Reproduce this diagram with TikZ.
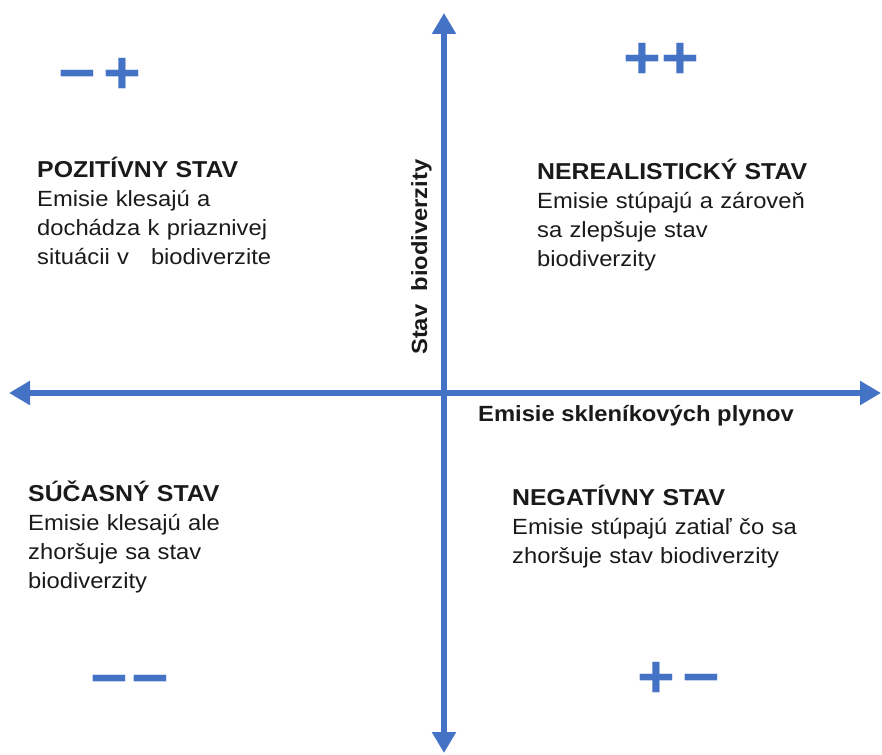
\documentclass[tikz,border=0pt]{standalone}
\usepackage{fontspec}
\setmainfont{Liberation Sans}[FakeStretch=1.08]
\usetikzlibrary{arrows.meta}
\usetikzlibrary{positioning}
\definecolor{axisblue}{HTML}{4472C4}
\definecolor{textdark}{HTML}{1A1A1A}

\begin{document}
\begin{tikzpicture}[x=1pt,y=-1pt,
    axis/.style={draw=axisblue,line width=6pt,>={Triangle[width=23pt,length=21pt]},<->},
    sign/.style={anchor=base,inner sep=0pt,text=axisblue,font=\bfseries\fontsize{60}{60}\selectfont},
    quad/.style={anchor=base west,inner sep=0pt,text=textdark,text width=300pt,align=left,
        font=\fontsize{22}{29}\selectfont},
    axislabel/.style={anchor=base west,inner sep=0pt,text=textdark,font=\bfseries\fontsize{22}{26}\selectfont}]
    \useasboundingbox (0,0) rectangle (882,754);

    % axes
    \coordinate (top) at (444,13);
    \coordinate (bottom) at (444,753);
    \coordinate (left) at (9,393);
    \coordinate (right) at (881,393);
    \draw[axis] (bottom) -- (top);
    \draw[axis] (left) -- (right);

    \node[axislabel] (xlabel) at (478,421) {Emisie skleníkových plynov};
    \node[axislabel,rotate=90] (ylabel) at (427,355) {Stav~ biodiverzity};

    % signs
    \node[sign] (minusplus) at (100,94) {−\kern7pt+};
    \node[sign] (plusplus) at (661,79) {++};
    \node[sign] (minusminus) at (130,698) {−\kern4pt−};
    \node[sign] (plusminus) at (679,697) {+\kern8pt−};

    % quadrants
    \node[quad] (positive) at (37,177) {{\fontsize{23}{29}\selectfont\bfseries POZITÍVNY STAV}\\Emisie klesajú a\\dochádza k priaznivej\\situácii v~~ biodiverzite};
    \node[quad] (unrealistic) at (537,179) {{\fontsize{23}{29}\selectfont\bfseries NEREALISTICKÝ STAV}\\Emisie stúpajú a zároveň\\sa zlepšuje stav\\biodiverzity};
    \node[quad] (current) at (28,501) {{\fontsize{23}{29}\selectfont\bfseries SÚČASNÝ STAV}\\Emisie klesajú ale\\zhoršuje sa stav\\biodiverzity};
    \node[quad] (negative) at (512,505) {{\fontsize{23}{29}\selectfont\bfseries NEGATÍVNY STAV}\\Emisie stúpajú zatiaľ čo sa\\zhoršuje stav biodiverzity};
\end{tikzpicture}
\end{document}
